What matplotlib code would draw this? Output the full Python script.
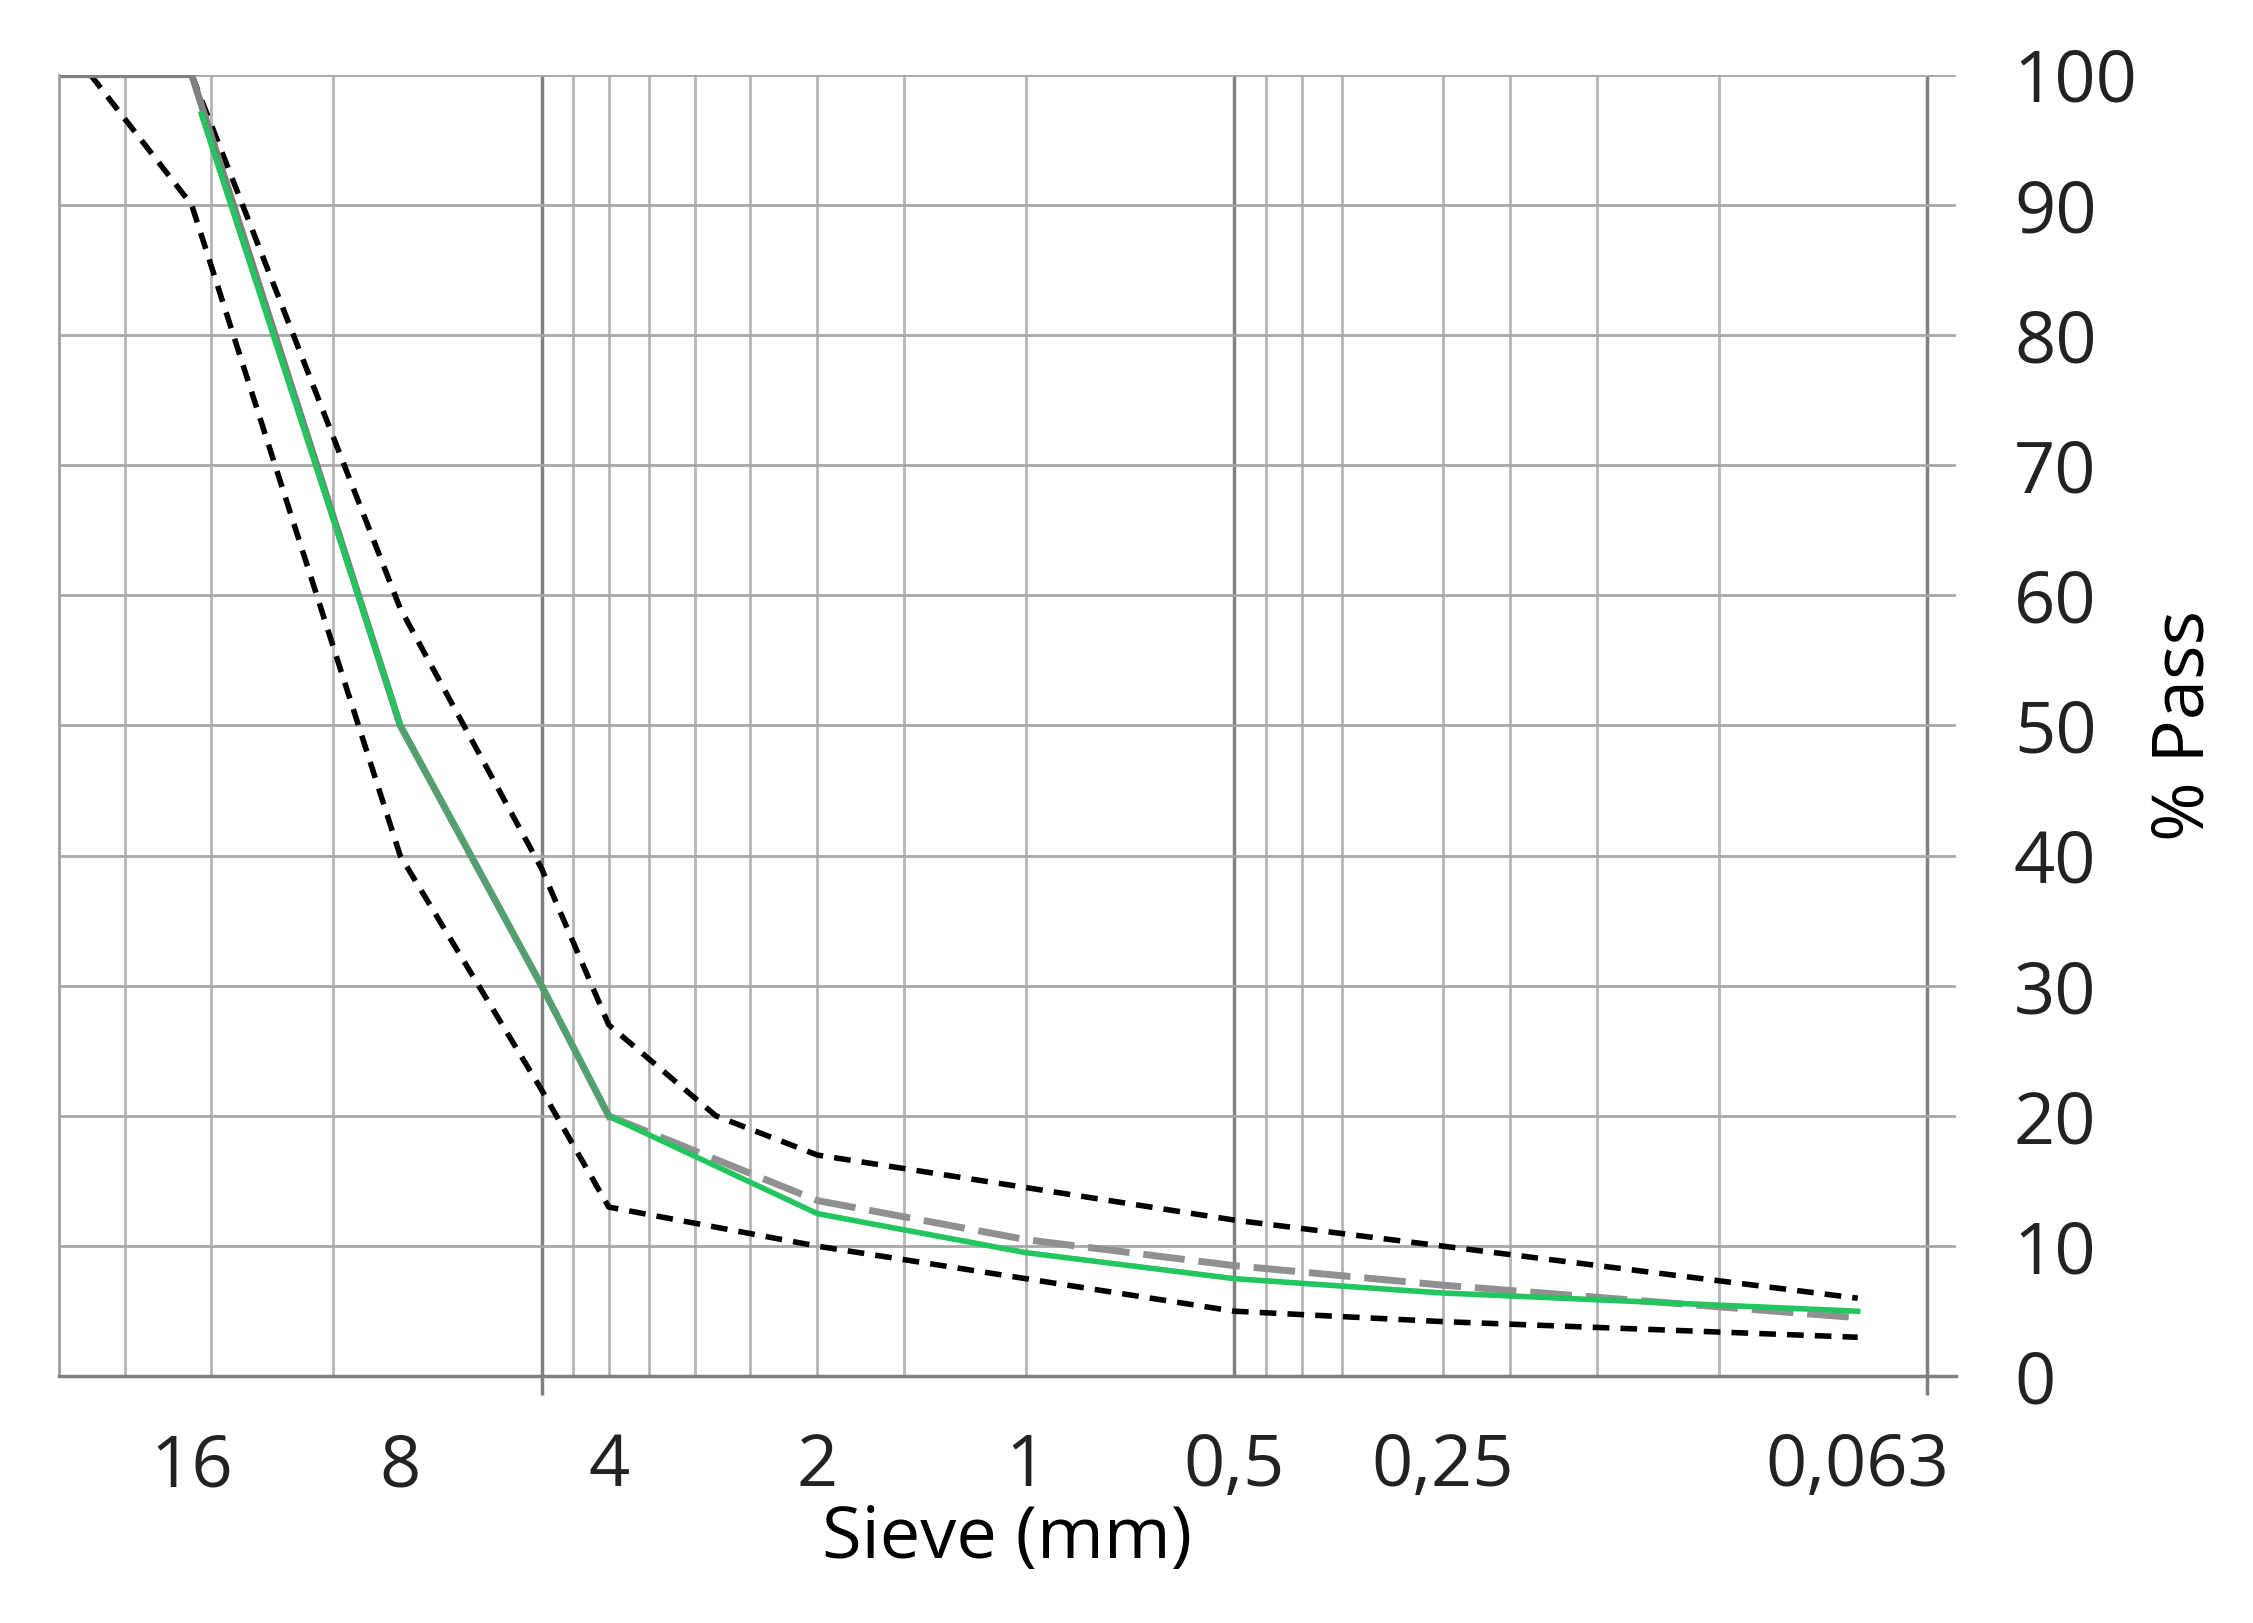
import matplotlib
matplotlib.use("Agg")
import matplotlib.pyplot as plt

plt.rcParams['font.family'] = ['Open Sans', 'DejaVu Sans']

sieve_ticks = [16, 8, 4, 2, 1, 0.5, 0.25, 0.063]
tick_labels = ["16", "8", "4", "2", "1", "0,5", "0,25", "0,063"]
minor_grid = [20, 15, 10, 4.5, 4, 3.5, 3, 2.5, 2, 1.5, 1, 0.45, 0.4, 0.35, 0.25, 0.2, 0.15, 0.1]
major_grid = [5, 0.5, 0.05]

lower_x = [22.4, 16, 8, 5, 4, 2, 1, 0.5, 0.25, 0.063]
lower_y = [100, 90, 40, 22, 13, 10, 7.5, 5, 4.2, 3]
upper_x = [16, 8, 5, 4, 2.8, 2, 1, 0.5, 0.25, 0.063]
upper_y = [100, 59, 39, 27, 20, 17, 14.5, 12, 10, 6]
gray_top_x = [25, 16, 8, 5, 4]
gray_top_y = [100, 100, 50, 30, 20]
gray_dash_x = [4, 2, 1, 0.5, 0.25, 0.063]
gray_dash_y = [20, 13.5, 10.5, 8.5, 7, 4.5]
green_x = [15.5, 8, 5, 4, 2, 1, 0.5, 0.25, 0.063]
green_y = [97, 50, 30, 20, 12.5, 9.5, 7.5, 6.4, 5]

fig = plt.figure(figsize=(22.53, 16.23), dpi=100)
ax = fig.add_axes([0.026, 0.152, 0.842, 0.802])
ax.set_xscale("log")
ax.set_xlim(24.9, 0.0455)
ax.set_ylim(0, 100)
ax.minorticks_off()

for v in minor_grid:
    ax.axvline(v, color="#b5b5b5", lw=2, zorder=0)
for v in major_grid:
    ax.axvline(v, color="#808080", lw=2.5, zorder=0)
for y in range(10, 101, 10):
    ax.axhline(y, color="#a8a8a8", lw=2, zorder=0)

ax.plot(lower_x, lower_y, color="black", ls=(0, (3, 2)), lw=4)
ax.plot(upper_x, upper_y, color="black", ls=(0, (3, 2)), lw=4)
ax.plot(gray_top_x, gray_top_y, color="#808080", lw=5)
ax.plot(gray_dash_x, gray_dash_y, color="#909090", lw=5, ls=(0, (6, 2)))
ax.plot(green_x, green_y, color="#22c55e", lw=4)
ax.plot(gray_top_x[2:], gray_top_y[2:], color="#808080", lw=3, alpha=0.6)

for s in ["top", "right"]:
    ax.spines[s].set_visible(False)
ax.spines["left"].set_color("#a0a0a0")
ax.spines["left"].set_linewidth(2)
ax.spines["bottom"].set_color("#808080")
ax.spines["bottom"].set_linewidth(2.5)

ax.set_xticks(sieve_ticks)
ax.set_xticklabels(tick_labels)
ax.tick_params(axis="x", length=0, labelsize=52, pad=40)
ax.set_xticks(major_grid, minor=True)
ax.tick_params(axis="x", which="minor", length=14, width=2.5, color="#808080")
ax.yaxis.tick_right()
ax.set_yticks(range(0, 101, 10))
ax.tick_params(axis="y", length=0, labelsize=52, pad=42)
ax.yaxis.set_label_position("right")
ax.set_ylabel("% Pass", fontsize=52, labelpad=8)
ax.set_xlabel("Sieve (mm)", fontsize=52, labelpad=0)
for t in ax.get_xticklabels() + ax.get_yticklabels():
    t.set_color("#222222")

fig.savefig("out.png", dpi=100)
